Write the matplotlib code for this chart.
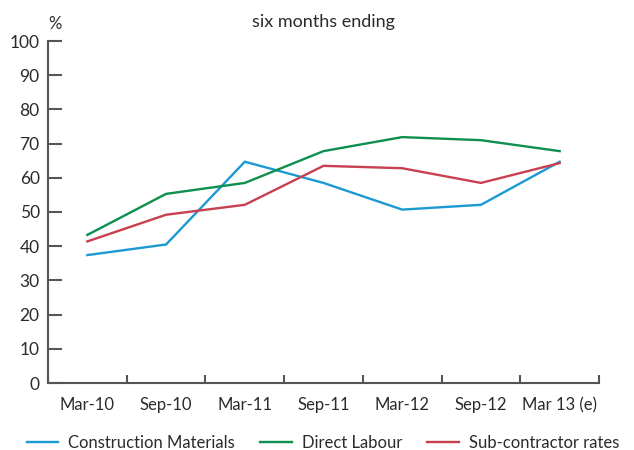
import matplotlib
matplotlib.use("Agg")
import matplotlib.pyplot as plt
import numpy as np

categories = ["Mar-10", "Sep-10", "Mar-11", "Sep-11", "Mar-12", "Sep-12", "Mar 13 (e)"]
construction_materials = [37.4, 40.5, 64.7, 58.5, 50.7, 52.1, 64.7]
direct_labour = [43.3, 55.3, 58.5, 67.8, 71.9, 71.0, 67.8]
subcontractor_rates = [41.4, 49.2, 52.1, 63.5, 62.8, 58.5, 64.3]
series_names = ["Construction Materials", "Direct Labour", "Sub-contractor rates"]
yticks = [0, 10, 20, 30, 40, 50, 60, 70, 80, 90, 100]

plt.rcParams['font.family'] = ['Lato', 'DejaVu Sans']
text_col = "#2b2b2b"
axis_col = "#555555"

W, H = 634, 450
fig = plt.figure(figsize=(W/100, H/100), dpi=100)
ax = fig.add_axes([48/W, 1-383/H, (599-48)/W, (383-41)/H])

x = np.arange(len(categories))
colors = ["#1b9ad2", "#0d8f4f", "#c8404f"]
for vals, name, c in zip([construction_materials, direct_labour, subcontractor_rates], series_names, colors):
    ax.plot(x, vals, color=c, lw=1.7, label=name, solid_joinstyle='miter')

ax.set_xlim(-0.5, len(categories)-0.5)
ax.set_ylim(0, 100)
for s in ["top", "right"]:
    ax.spines[s].set_visible(False)
for s in ["left", "bottom"]:
    ax.spines[s].set_color(axis_col)
    ax.spines[s].set_linewidth(1.5)

ax.set_yticks(yticks)
ax.set_yticklabels([str(v) for v in yticks])
ax.tick_params(axis='y', direction='in', length=10, width=1.5, color=axis_col,
               labelsize=12.5, labelcolor=text_col, pad=6)

ax.set_xticks(np.arange(len(categories)+1) - 0.5)
ax.set_xticklabels([])
ax.tick_params(axis='x', which='major', direction='in', length=6, width=1.5, color=axis_col)
ax.set_xticks(x, minor=True)
ax.set_xticklabels(categories, minor=True)
ax.tick_params(axis='x', which='minor', length=0, labelsize=12, labelcolor=text_col, pad=10)

fig.text(323/W, 1-22/H, "six months ending", ha='center', va='center', fontsize=13, color=text_col)
fig.text(55/W, 1-24/H, "%", ha='center', va='center', fontsize=12, color=text_col)

fig.legend(loc='center', bbox_to_anchor=(323/W, 1-443/H), ncol=3, frameon=False,
           fontsize=12, handlelength=1.9, columnspacing=1.5, handletextpad=0.6,
           labelcolor=text_col)

fig.savefig("out.png", dpi=100)
